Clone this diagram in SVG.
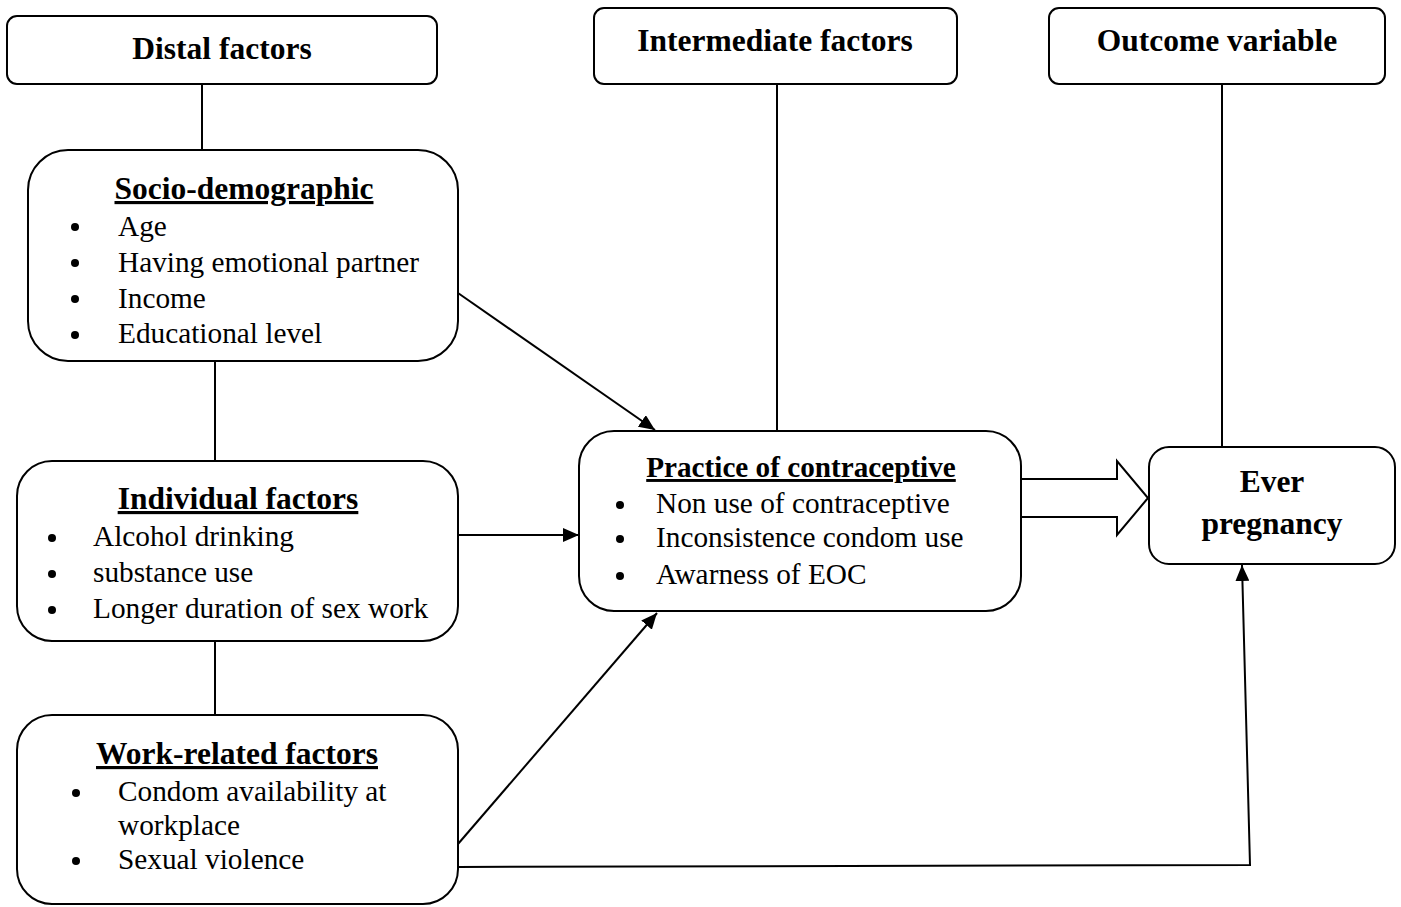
<svg xmlns="http://www.w3.org/2000/svg" width="1401" height="907" viewBox="0 0 1401 907">
<style>
.box{fill:#fff;stroke:#000;stroke-width:2}
.ln{fill:none;stroke:#000;stroke-width:2}
.h{font-family:"Liberation Serif","Times New Roman",serif;font-weight:bold;font-size:31.5px;text-anchor:middle;fill:#000}
.u{text-decoration:underline}
.t{font-family:"Liberation Serif","Times New Roman",serif;font-size:29.3px;fill:#000}
.b{fill:#000}
</style>
<defs>
<marker id="ah" markerUnits="userSpaceOnUse" markerWidth="18" markerHeight="14" refX="16" refY="7" orient="auto">
<path d="M0,0 L16,7 L0,14 Z" fill="#000"/>
</marker>
</defs>
<g id="connectors">
<line class="ln" x1="202" y1="84" x2="202" y2="150"/>
<line class="ln" x1="777" y1="84" x2="777" y2="431"/>
<line class="ln" x1="1222" y1="84" x2="1222" y2="447"/>
<line class="ln" x1="215" y1="361" x2="215" y2="461"/>
<line class="ln" x1="215" y1="641" x2="215" y2="715"/>
<line class="ln" x1="458" y1="293" x2="655" y2="430" marker-end="url(#ah)"/>
<line class="ln" x1="458" y1="535" x2="579" y2="535" marker-end="url(#ah)"/>
<line class="ln" x1="458" y1="844" x2="657" y2="613" marker-end="url(#ah)"/>
<polyline class="ln" points="458,867 1250,865 1242,565" marker-end="url(#ah)"/>
<path class="ln" d="M1021,479 L1117,479 L1117,461 L1148,498 L1117,535 L1117,517 L1021,517"/>
</g>
<g id="distal">
<rect class="box" x="7" y="16" width="430" height="68" rx="10"/>
<text class="h" x="222" y="59">Distal factors</text>
</g>
<g id="intermediate">
<rect class="box" x="594" y="8" width="363" height="76" rx="10"/>
<text class="h" x="775" y="51">Intermediate factors</text>
</g>
<g id="outcome">
<rect class="box" x="1049" y="8" width="336" height="76" rx="10"/>
<text class="h" x="1217" y="51">Outcome variable</text>
</g>
<g id="socio">
<rect class="box" x="28" y="150" width="430" height="211" rx="40"/>
<text class="h u" x="244" y="199">Socio-demographic</text>
<circle class="b" cx="75" cy="227" r="4"/><text class="t" x="118" y="236">Age</text>
<circle class="b" cx="75" cy="263" r="4"/><text class="t" x="118" y="272">Having emotional partner</text>
<circle class="b" cx="75" cy="299" r="4"/><text class="t" x="118" y="308">Income</text>
<circle class="b" cx="75" cy="335" r="4"/><text class="t" x="118" y="343">Educational level</text>
</g>
<g id="individual">
<rect class="box" x="17" y="461" width="441" height="180" rx="35"/>
<text class="h u" x="238" y="509">Individual factors</text>
<circle class="b" cx="52" cy="538" r="4"/><text class="t" x="93" y="546">Alcohol drinking</text>
<circle class="b" cx="52" cy="574" r="4"/><text class="t" x="93" y="582">substance use</text>
<circle class="b" cx="52" cy="610" r="4"/><text class="t" x="93" y="618">Longer duration of sex work</text>
</g>
<g id="work">
<rect class="box" x="17" y="715" width="441" height="189" rx="35"/>
<text class="h u" x="237" y="764">Work-related factors</text>
<circle class="b" cx="76" cy="793" r="4"/><text class="t" x="118" y="801">Condom availability at</text>
<text class="t" x="118" y="835">workplace</text>
<circle class="b" cx="76" cy="861" r="4"/><text class="t" x="118" y="869">Sexual violence</text>
</g>
<g id="practice">
<rect class="box" x="579" y="431" width="442" height="180" rx="35"/>
<text class="h u" x="801" y="477" style="font-size:29.2px">Practice of contraceptive</text>
<circle class="b" cx="620" cy="505" r="4"/><text class="t" x="656" y="513">Non use of contraceptive</text>
<circle class="b" cx="620" cy="539" r="4"/><text class="t" x="656" y="547">Inconsistence condom use</text>
<circle class="b" cx="620" cy="576" r="4"/><text class="t" x="656" y="584">Awarness of EOC</text>
</g>
<g id="ever">
<rect class="box" x="1149" y="447" width="246" height="117" rx="20"/>
<text class="h" x="1272" y="492">Ever</text>
<text class="h" x="1272" y="534">pregnancy</text>
</g>
</svg>
